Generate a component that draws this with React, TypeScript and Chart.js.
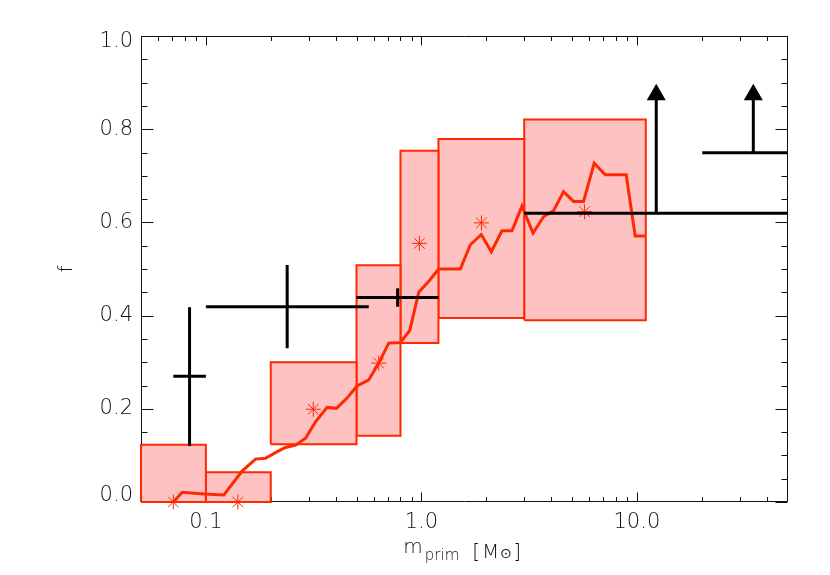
import React, { useEffect, useRef } from "react";
import { Chart, registerables } from "chart.js";

Chart.register(...registerables);

// ---- data ----
// red shaded boxes (mass bins, range of f)
const boxX0 = [0.05, 0.1, 0.2, 0.5, 0.8, 1.2, 3.0];
const boxX1 = [0.1, 0.2, 0.5, 0.8, 1.2, 3.0, 11.0];
const boxLow = [0.0, 0.0, 0.124, 0.142, 0.341, 0.395, 0.39];
const boxHigh = [0.123, 0.064, 0.3, 0.508, 0.754, 0.779, 0.821];

// red asterisks
const starX = [0.0706, 0.1407, 0.315, 0.634, 0.979, 1.9, 5.72];
const starY = [0.0, 0.0, 0.199, 0.298, 0.555, 0.599, 0.623];

// red curve
const curveX = [
  0.0706, 0.0777, 0.0979, 0.1212, 0.1475, 0.17, 0.189, 0.2143, 0.234, 0.2605,
  0.29, 0.3225, 0.3655, 0.4036, 0.452, 0.503, 0.57, 0.634, 0.7055, 0.799,
  0.883, 0.972, 1.093, 1.203, 1.516, 1.687, 1.897, 2.111, 2.366, 2.633,
  2.93, 3.296, 3.69, 4.105, 4.568, 5.083, 5.655, 6.339, 7.129, 8.92, 9.82, 11.0,
];
const curveY = [
  0.0, 0.021, 0.017, 0.015, 0.067, 0.092, 0.094, 0.108, 0.117, 0.122,
  0.137, 0.172, 0.203, 0.201, 0.223, 0.249, 0.262, 0.298, 0.341, 0.342,
  0.368, 0.45, 0.476, 0.5, 0.5, 0.552, 0.574, 0.537, 0.582, 0.582,
  0.635, 0.577, 0.612, 0.625, 0.666, 0.645, 0.645, 0.727, 0.702, 0.702, 0.571, 0.571,
];

// black error crosses
const crossX = [0.084, 0.2384, 0.776];
const crossXLo = [0.0706, 0.1, 0.5];
const crossXHi = [0.1, 0.57, 1.2];
const crossY = [0.2697, 0.419, 0.439];
const crossYLo = [0.12, 0.33, 0.419];
const crossYHi = [0.418, 0.5086, 0.4586];

// black lower limits (horizontal bar + upward arrow)
const limXLo = [3.0, 20.1];
const limXHi = [50, 50];
const limY = [0.6195, 0.7496];
const limArrowX = [12.3, 34.7];
const limArrowHead = [0.874, 0.874];

// axes
const xMin = 0.05;
const xMax = 50;
const yMin = 0;
const yMax = 1.0;
const xMajorTicks = [0.1, 1, 10];
const xTickLabels = ["0.1", "1.0", "10.0"];
const yMajorTicks = [0, 0.2, 0.4, 0.6, 0.8, 1.0];
const yTickLabels = ["0.0", "0.2", "0.4", "0.6", "0.8", "1.0"];
const yMinorStep = 0.05;

const RED = "rgb(255,40,0)";
const PINK = "rgb(255,194,194)";
const FONT = '"DejaVu Sans", "Liberation Sans", sans-serif';

function xMinorTicks(): number[] {
  const out: number[] = [];
  for (const d of [0.01, 0.1, 1, 10]) {
    for (let k = 2; k <= 9; k++) {
      const v = +(k * d).toPrecision(6);
      if (v > xMin && v < xMax) out.push(v);
    }
  }
  return out;
}

const framePlugin = {
  id: "idlFrame",
  beforeDatasetsDraw(chart: any) {
    const { ctx, chartArea: a, scales } = chart;
    const xs = scales.x;
    const ys = scales.y;
    ctx.save();
    ctx.strokeStyle = "#111";
    ctx.lineWidth = 1;
    const L = Math.round(a.left) + 0.5;
    const R = Math.round(a.right) - 0.5;
    const T = Math.round(a.top) + 0.5;
    const B = Math.round(a.bottom) - 0.5;
    ctx.beginPath();
    ctx.rect(L, T, R - L, B - T);
    const xt = (v: number, len: number) => {
      const p = Math.round(xs.getPixelForValue(v)) + 0.5;
      ctx.moveTo(p, B);
      ctx.lineTo(p, B - len);
      ctx.moveTo(p, T);
      ctx.lineTo(p, T + len);
    };
    const yt = (v: number, len: number) => {
      const p = Math.round(ys.getPixelForValue(v)) + 0.5;
      ctx.moveTo(L, p);
      ctx.lineTo(L + len, p);
      ctx.moveTo(R, p);
      ctx.lineTo(R - len, p);
    };
    xMajorTicks.forEach((v) => xt(v, 9));
    xMinorTicks().forEach((v) => xt(v, 4.5));
    const nMinor = Math.round((yMax - yMin) / yMinorStep);
    for (let i = 0; i <= nMinor; i++) {
      const v = yMin + i * yMinorStep;
      const isMajor = yMajorTicks.some((m) => Math.abs(m - v) < 1e-6);
      if (!isMajor) yt(v, 6);
    }
    yMajorTicks.forEach((v) => yt(v, 12));
    ctx.stroke();
    ctx.restore();
  },
  afterDraw(chart: any) {
    const { ctx, chartArea: a, scales } = chart;
    const xs = scales.x;
    const ys = scales.y;
    ctx.save();
    ctx.fillStyle = "#111";
    // y tick labels
    ctx.font = `200 21px ${FONT}`;
    ctx.textAlign = "right";
    ctx.textBaseline = "middle";
    yMajorTicks.forEach((v, i) => {
      let p = ys.getPixelForValue(v);
      if (v === yMin) p -= 6;
      if (v === yMax) p += 6;
      ctx.fillText(yTickLabels[i], a.left - 8, p);
    });
    // x tick labels
    ctx.textAlign = "center";
    xMajorTicks.forEach((v, i) => {
      ctx.fillText(xTickLabels[i], xs.getPixelForValue(v), a.bottom + 21);
    });
    // y title
    ctx.save();
    ctx.translate(67, (a.top + a.bottom) / 2);
    ctx.rotate(-Math.PI / 2);
    ctx.font = `200 20px ${FONT}`;
    ctx.textAlign = "center";
    ctx.textBaseline = "middle";
    ctx.fillText("f", 0, 0);
    ctx.restore();
    // x title: m_prim [M_sun]
    ctx.textAlign = "left";
    ctx.textBaseline = "alphabetic";
    const big = `200 20px ${FONT}`;
    const small = `200 15px ${FONT}`;
    const sun = `200 14px ${FONT}`;
    const parts: [string, string, number, number][] = [
      ["m", big, 0, 2],
      ["prim", small, 7, 13],
      ["[", big, 5, 2],
      ["M", big, 5, 1],
      ["\u2299", sun, 5, 1],
      ["]", big, 5, 0],
    ];
    let total = 0;
    const widths = parts.map(([t, f, , g]) => {
      ctx.font = f;
      const w = ctx.measureText(t).width;
      total += w + g;
      return w;
    });
    let cx = (a.left + a.right) / 2 - total / 2 - 2;
    const base = 553;
    parts.forEach(([t, f, dy, g], i) => {
      ctx.font = f;
      ctx.fillText(t, cx, base + dy);
      cx += widths[i] + g;
    });
    ctx.restore();
  },
};

export default function App() {
  const ref = useRef<HTMLCanvasElement>(null);

  useEffect(() => {
    const canvas = ref.current;
    if (!canvas) return;
    const datasets: any[] = [];
    const blackLine = (data: any[]) => ({
      data,
      borderColor: "#000",
      borderWidth: 3,
      pointRadius: 0,
      fill: false,
      order: 0,
      clip: false,
      borderCapStyle: "butt",
    });
    crossX.forEach((cx, i) => {
      datasets.push(
        blackLine([
          { x: crossXLo[i], y: crossY[i] },
          { x: crossXHi[i], y: crossY[i] },
        ])
      );
      datasets.push(
        blackLine([
          { x: cx, y: crossYLo[i] },
          { x: cx, y: crossYHi[i] },
        ])
      );
    });
    limY.forEach((ly, i) => {
      datasets.push(
        blackLine([
          { x: limXLo[i], y: ly },
          { x: limXHi[i], y: ly },
        ])
      );
      datasets.push(
        blackLine([
          { x: limArrowX[i], y: ly },
          { x: limArrowX[i], y: limArrowHead[i] },
        ])
      );
      datasets.push({
        data: [{ x: limArrowX[i], y: limArrowHead[i] }],
        showLine: false,
        pointStyle: "triangle",
        pointRadius: 11,
        pointBackgroundColor: "#000",
        pointBorderColor: "#000",
        pointBorderWidth: 0,
        order: 0,
        clip: false,
      });
    });
    datasets.push({
      data: starX.map((x, i) => ({ x, y: starY[i] })),
      showLine: false,
      pointStyle: "star",
      pointRadius: 7.5,
      pointBorderColor: RED,
      pointBackgroundColor: RED,
      pointBorderWidth: 1,
      order: 1,
      clip: false,
    });
    datasets.push({
      data: curveX.map((x, i) => ({ x, y: curveY[i] })),
      borderColor: RED,
      borderWidth: 3,
      pointRadius: 0,
      fill: false,
      tension: 0,
      order: 2,
      clip: false,
    });
    boxX0.forEach((x0, i) => {
      const x1 = boxX1[i];
      const lo = boxLow[i];
      const hi = boxHigh[i];
      datasets.push({
        data: [
          { x: x0, y: lo },
          { x: x1, y: lo },
          { x: x1, y: hi },
          { x: x0, y: hi },
          { x: x0, y: lo },
        ],
        borderColor: RED,
        borderWidth: 2,
        backgroundColor: PINK,
        fill: "shape",
        pointRadius: 0,
        tension: 0,
        order: 3,
        clip: false,
      });
    });

    const chart = new Chart(canvas, {
      type: "line",
      data: { datasets },
      options: {
        animation: false,
        responsive: false,
        devicePixelRatio: 1,
        parsing: true,
        layout: { padding: { top: 36, right: 42.5, left: 0, bottom: 0 } },
        plugins: {
          legend: { display: false },
          tooltip: { enabled: false },
          title: { display: false },
        },
        scales: {
          x: {
            type: "logarithmic",
            min: xMin,
            max: xMax,
            grid: { display: false },
            border: { display: false },
            ticks: { display: false },
            afterFit: (s: any) => {
              s.height = 73;
            },
          },
          y: {
            type: "linear",
            min: yMin,
            max: yMax,
            grid: { display: false },
            border: { display: false },
            ticks: { display: false },
            afterFit: (s: any) => {
              s.width = 141;
            },
          },
        },
      } as any,
      plugins: [framePlugin],
    });
    return () => chart.destroy();
  }, []);

  return (
    <div style={{ position: "absolute", left: 0, top: 0, width: 830, height: 575, background: "#fff" }}>
      <canvas ref={ref} width={830} height={575} style={{ width: 830, height: 575, display: "block" }} />
    </div>
  );
}
